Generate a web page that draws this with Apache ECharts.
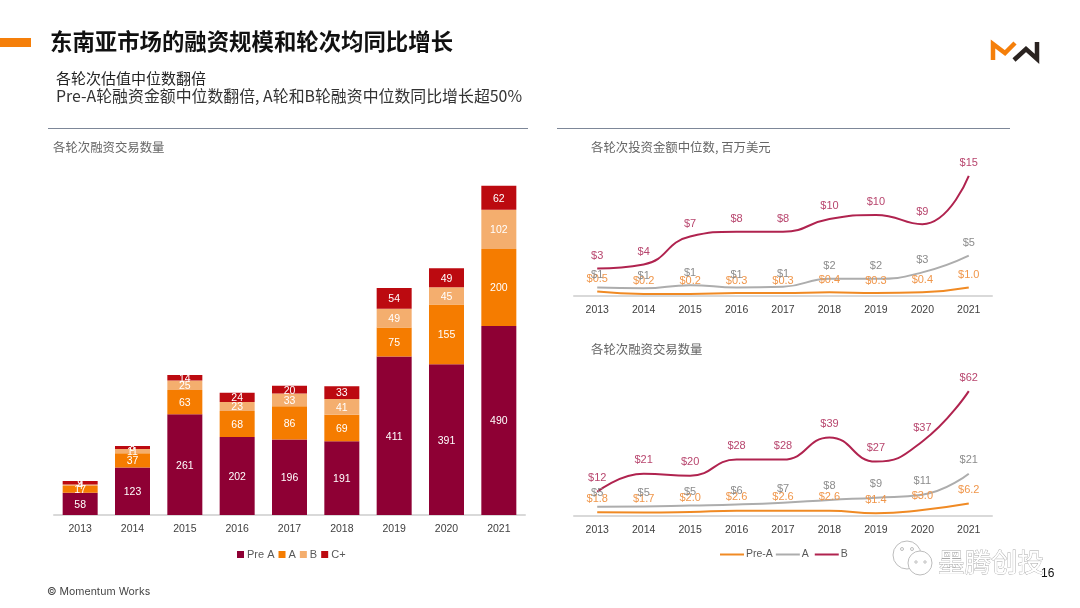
<!DOCTYPE html>
<html>
<head>
<meta charset="utf-8">
<style>
  html, body { margin: 0; padding: 0; background: #fff; }
  #main { width: 1080px; height: 608px; }
</style>
<script src="https://cdn.jsdelivr.net/npm/echarts@6/dist/echarts.min.js"></script>
</head>
<body>
<div id="main"></div>
<script>
// bar chart: deals per round
const years = ["2013", "2014", "2015", "2016", "2017", "2018", "2019", "2020", "2021"];
const dealsPreA = [58, 123, 261, 202, 196, 191, 411, 391, 490];
const dealsA = [17, 37, 63, 68, 86, 69, 75, 155, 200];
const dealsB = [4, 11, 25, 23, 33, 41, 49, 45, 102];
const dealsC = [9, 8, 14, 24, 20, 33, 54, 49, 62];

// top line chart: median amount
const medianB = [3.4, 3.9, 7.4, 8.0, 8.0, 9.6, 10.1, 8.95, 15];
const medianA = [1.0, 0.9, 1.3, 1.0, 1.1, 2.1, 2.1, 2.9, 5.0];
const medianPreA = [0.5, 0.2, 0.2, 0.3, 0.3, 0.4, 0.3, 0.4, 1.0];

// bottom line chart
const valueB = [12, 21, 20, 28, 28, 39, 27, 37, 62];
const valueA = [4.6, 4.7, 5.2, 5.7, 6.6, 8.0, 9.1, 10.6, 21];
const valuePreA = [1.8, 1.7, 2.0, 2.6, 2.6, 2.6, 1.4, 3.0, 6.2];

const CJK = '"Noto Sans CJK SC", "Liberation Sans", sans-serif';
const LATIN = '"Liberation Sans", Arial, sans-serif';
const C_PREA = "#8E0034", C_A = "#F57C00", C_B = "#F4AE6E", C_C = "#BC0A10";

const chart = echarts.init(document.getElementById("main"), null, { renderer: "canvas" });

function barSeries(name, data, color) {
  return {
    name: name, type: "bar", stack: "deals", data: data, barWidth: 35,
    xAxisIndex: 0, yAxisIndex: 0,
    itemStyle: { color: color },
    label: { show: true, position: "inside", offset: [0, 1], color: "#fff", fontSize: 10.5, fontFamily: LATIN },
    animation: false
  };
}

function lineSeries(name, data, color, labelColor, grid, digits) {
  return {
    name: name, type: "line", data: data, smooth: 0.5, symbol: "circle", symbolSize: 0.1,
    showAllSymbol: true,
    xAxisIndex: grid, yAxisIndex: grid,
    lineStyle: { color: color, width: 2 },
    itemStyle: { color: color },
    label: {
      show: true, position: "top", distance: grid === 2 ? 8 : 7, color: labelColor, fontSize: 11, fontFamily: LATIN,
      formatter: p => "$" + (digits ? p.value.toFixed(digits) : Math.round(p.value))
    },
    labelLayout: { hideOverlap: false },
    animation: false
  };
}

function catAxis(grid) {
  return {
    type: "category", gridIndex: grid, data: years,
    axisLine: { lineStyle: { color: "#D9D9D9", width: 2 } },
    axisTick: { show: false },
    axisLabel: { color: "#404040", fontSize: 10.5, fontFamily: LATIN, margin: 9 }
  };
}

function valAxis(grid, max) {
  return { type: "value", gridIndex: grid, min: 0, max: max, show: false, splitLine: { show: false } };
}

function txt(x, y, text, size, color, weight, family) {
  return {
    type: "text", x: x, y: y, silent: true,
    style: { text: text, fontSize: size, fill: color, fontWeight: weight || "normal", fontFamily: family || CJK, textVerticalAlign: "middle" }
  };
}

function rect(x, y, w, h, color) {
  return { type: "rect", silent: true, shape: { x: x, y: y, width: w, height: h }, style: { fill: color } };
}

function poly(points, color, width) {
  return {
    type: "polyline", silent: true, shape: { points: points },
    style: { stroke: color, lineWidth: width, fill: null }
  };
}

function bubble(cx, cy, r) {
  return { type: "circle", silent: true, shape: { cx: cx, cy: cy, r: r }, style: { fill: "#fff", stroke: "#BDBDBD", lineWidth: 1 } };
}

chart.setOption({
  backgroundColor: "#fff",
  textStyle: { fontFamily: LATIN },
  grid: [
    { left: 54, width: 471, top: 168, height: 347 },
    { left: 574, width: 418, top: 160, height: 135.5 },
    { left: 574, width: 418, top: 375, height: 141 }
  ],
  xAxis: [catAxis(0), catAxis(1), catAxis(2)],
  yAxis: [valAxis(0, 900), valAxis(1, 17), valAxis(2, 70)],
  legend: [
    {
      left: 232, top: 544, itemWidth: 7, itemHeight: 7, itemGap: 4, icon: "rect",
      data: ["Pre A", "A", "B", "C+"],
      textStyle: { color: "#595959", fontSize: 11, padding: [0, 0, 0, -2] }
    },
    {
      left: 715, top: 544, itemWidth: 24, itemHeight: 2, itemGap: 3, icon: "rect",
      data: ["Pre-A", "A ", "B "],
      textStyle: { color: "#595959", fontSize: 10.5, padding: [0, 0, 0, -3] }
    }
  ],
  series: [
    barSeries("Pre A", dealsPreA, C_PREA),
    barSeries("A", dealsA, C_A),
    barSeries("B", dealsB, C_B),
    barSeries("C+", dealsC, C_C),
    lineSeries("中位数 Pre-A", medianPreA, "#F08A24", "#F0964A", 1, 1),
    lineSeries("中位数 A", medianA, "#ADADAD", "#8C8C8C", 1, 0),
    lineSeries("中位数 B", medianB, "#B0234F", "#B8466E", 1, 0),
    lineSeries("Pre-A", valuePreA, "#F08A24", "#F0964A", 2, 1),
    lineSeries("A ", valueA, "#ADADAD", "#8C8C8C", 2, 0),
    lineSeries("B ", valueB, "#B0234F", "#B8466E", 2, 0)
  ],
  graphic: [
    rect(0, 38, 31, 9, "#F57F0A"),
    txt(50, 41, "东南亚市场的融资规模和轮次均同比增长", 22.4, "#111", "bold"),
    txt(56, 78, "各轮次估值中位数翻倍", 15, "#222"),
    txt(56, 96, "Pre-A轮融资金额中位数翻倍, A轮和B轮融资中位数同比增长超50%", 15.9, "#333"),
    rect(48, 128, 480, 1, "#7D8798"),
    rect(557, 128, 453, 1, "#7D8798"),
    txt(53, 147, "各轮次融资交易数量", 12.4, "#666"),
    txt(591, 147, "各轮次投资金额中位数, 百万美元", 12.4, "#666"),
    txt(591, 349, "各轮次融资交易数量", 12.4, "#666"),
    txt(47, 592, "© Momentum Works", 10.5, "#444", "normal", 'Inter, sans-serif'),
    poly([[993, 60], [993, 44], [1005, 53], [1015, 43]], "#F57F0A", 4.5),
    poly([[1014, 60], [1026, 49], [1037, 59], [1037, 42]], "#2A2320", 4.5),
    bubble(907, 555, 14),
    bubble(920, 563, 12),
    bubble(902, 549, 1.5),
    bubble(912, 549, 1.5),
    bubble(916, 562, 1.2),
    bubble(925, 562, 1.2),
    {
      type: "text", x: 938, y: 562, silent: true,
      style: { text: "墨腾创投", fontSize: 26.5, fontFamily: CJK, fill: "#fff", stroke: "#A8A8A8", lineWidth: 0.8, textVerticalAlign: "middle" }
    },
    txt(1041, 574, "16", 12, "#111", "normal", LATIN)
  ]
});
</script>
</body>
</html>
